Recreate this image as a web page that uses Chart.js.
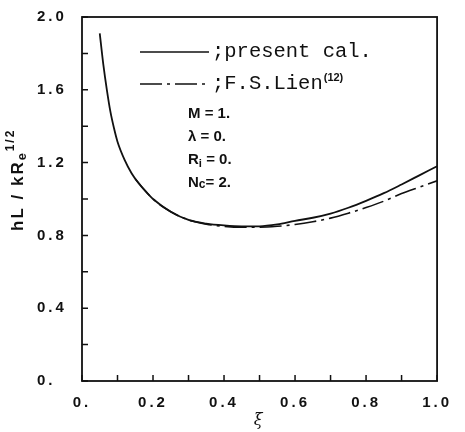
<!DOCTYPE html>
<html>
<head>
<meta charset="utf-8">
<script src="https://cdn.jsdelivr.net/npm/chart.js@4.4.1/dist/chart.umd.min.js"></script>
<style>
html, body { margin: 0; padding: 0; background: #fff; }
</style>
</head>
<body>
<canvas id="hl_chart" width="465" height="432"></canvas>
<script>
// values
const xi = [0.05, 0.06, 0.07, 0.08, 0.09, 0.10, 0.12, 0.14, 0.16, 0.18, 0.20, 0.25, 0.30, 0.35, 0.40, 0.45, 0.50, 0.55, 0.60, 0.65, 0.70, 0.75, 0.80, 0.85, 0.90, 0.95, 1.00];
const presentCal = [1.91, 1.74, 1.60, 1.48, 1.39, 1.315, 1.215, 1.14, 1.085, 1.04, 1.00, 0.93, 0.885, 0.865, 0.855, 0.85, 0.85, 0.86, 0.88, 0.897, 0.92, 0.952, 0.99, 1.032, 1.08, 1.13, 1.18];
const xiLien = [0.15, 0.20, 0.25, 0.30, 0.35, 0.40, 0.45, 0.50, 0.55, 0.60, 0.65, 0.70, 0.75, 0.80, 0.85, 0.90, 0.95, 1.00];
const lienVals = [1.11, 1.00, 0.93, 0.885, 0.862, 0.85, 0.845, 0.845, 0.85, 0.86, 0.875, 0.895, 0.922, 0.953, 0.988, 1.03, 1.065, 1.10];
const xTickLabels = ['0.', '0.2', '0.4', '0.6', '0.8', '1.0'];
const yTickLabels = ['0.', '0.4', '0.8', '1.2', '1.6', '2.0'];
const legendLabels = [';present cal.', ';F.S.Lien'];
const legendRef = '(12)';
const params = [
	[['M', ''], [' = 1.', '']],
	[['\u03bb', ''], [' = 0.', '']],
	[['R', ''], ['i', 'sub'], [' = 0.', '']],
	[['N', ''], ['c', 'low'], ['= 2.', '']]
];

const tickFont = { family: '"Liberation Sans", Arial, sans-serif', size: 15, weight: 'bold' };

function toPoints(xs, ys) {
	return xs.map((x, i) => ({ x: x, y: ys[i] }));
}

function drawRich(ctx, parts, x, y, size) {
	let cx = x;
	parts.forEach(([txt, kind]) => {
		let s = size, dy = 0;
		if (kind === 'sub') { s = size * 0.75; dy = size * 0.25; }
		if (kind === 'low') { s = size * 0.8; dy = size * 0.08; }
		if (kind === 'sup') { s = size * 0.7; dy = -size * 0.4; }
		ctx.font = 'bold ' + s + 'px "Liberation Sans", Arial, sans-serif';
		ctx.fillText(txt, cx, y + dy);
		cx += ctx.measureText(txt).width;
	});
}

const frame = {
	id: 'frame',
	beforeLayout(chart) { chart.ctx.letterSpacing = '3px'; },
	beforeDraw(chart) { chart.ctx.letterSpacing = '3px'; },
	afterDraw(chart) {
		const ctx = chart.ctx;
		const a = chart.chartArea;
		const xs = chart.scales.x, ys = chart.scales.y;
		ctx.save();
		ctx.letterSpacing = '0px';
		ctx.strokeStyle = '#111';
		ctx.lineWidth = 1.8;
		ctx.strokeRect(a.left, a.top, a.right - a.left, a.bottom - a.top);
		// inward ticks
		ctx.lineWidth = 1.5;
		ctx.beginPath();
		ys.ticks.forEach(t => {
			const p = ys.getPixelForValue(t.value);
			ctx.moveTo(a.left, p); ctx.lineTo(a.left + 6, p);
		});
		xs.ticks.forEach(t => {
			const p = xs.getPixelForValue(t.value);
			ctx.moveTo(p, a.bottom); ctx.lineTo(p, a.bottom - 6);
		});
		ctx.stroke();

		// legend
		const lx1 = a.left + 58, lx2 = a.left + 127;
		const r1 = a.top + 35, r2 = a.top + 67;
		ctx.lineWidth = 1.6;
		ctx.beginPath(); ctx.moveTo(lx1, r1); ctx.lineTo(lx2, r1); ctx.stroke();
		ctx.setLineDash([22, 5, 3, 5]);
		ctx.beginPath(); ctx.moveTo(lx1, r2); ctx.lineTo(lx2, r2); ctx.stroke();
		ctx.setLineDash([]);
		ctx.fillStyle = '#111';
		ctx.textBaseline = 'middle';
		ctx.textAlign = 'left';
		ctx.font = '20.5px "Liberation Mono", "Courier New", monospace';
		ctx.fillText(legendLabels[0], lx2 + 3, r1);
		ctx.fillText(legendLabels[1], lx2 + 3, r2);
		const w = ctx.measureText(legendLabels[1]).width;
		ctx.font = 'bold 11px "Liberation Sans", Arial, sans-serif';
		ctx.fillText(legendRef, lx2 + 3 + w + 1, r2 - 6);

		// parameters
		params.forEach((parts, i) => {
			drawRich(ctx, parts, a.left + 106, a.top + 97 + i * 23, 15);
		});

		// y axis title
		ctx.letterSpacing = '2px';
		ctx.translate(18, 231);
		ctx.rotate(-Math.PI / 2);
		drawRich(ctx, [['hL / kR', ''], ['e', 'sub'], ['1/2', 'sup']], 0, 0, 17);
		ctx.restore();
	}
};

const ctx = document.querySelector('#hl_chart').getContext('2d');
const myChart = new Chart(ctx, {
	type: 'line',
	data: {
		datasets: [{
			label: 'present cal.',
			data: toPoints(xi, presentCal),
			borderColor: '#111',
			borderWidth: 1.8,
			pointRadius: 0,
			cubicInterpolationMode: 'monotone',
			fill: false
		}, {
			label: 'F.S.Lien',
			data: toPoints(xiLien, lienVals),
			borderColor: '#111',
			borderWidth: 1.6,
			borderDash: [22, 5, 3, 5],
			pointRadius: 0,
			cubicInterpolationMode: 'monotone',
			fill: false
		}]
	},
	options: {
		responsive: false,
		animation: false,
		layout: { padding: { left: 37, top: 15, right: 18, bottom: 0 } },
		plugins: {
			legend: { display: false },
			tooltip: { enabled: false }
		},
		scales: {
			x: {
				type: 'linear',
				min: 0, max: 1,
				grid: { display: false, drawTicks: false },
				border: { display: false },
				ticks: {
					stepSize: 0.1,
					autoSkip: false,
					maxRotation: 0,
					padding: 13,
					color: '#111',
					font: tickFont,
					callback: v => {
						const k = Math.round(v * 10);
						return k % 2 === 0 ? xTickLabels[k / 2] : '';
					}
				},
				title: {
					display: true,
					text: '\u03be',
					color: '#111',
					font: { family: '"DejaVu Serif", serif', size: 16, style: 'italic' },
					padding: { top: 0, bottom: 2 }
				},
				afterFit: s => { s.height = 51; }
			},
			y: {
				min: 0, max: 2,
				grid: { display: false, drawTicks: false },
				border: { display: false },
				ticks: {
					stepSize: 0.2,
					autoSkip: false,
					crossAlign: 'far',
					padding: 8,
					color: '#111',
					font: tickFont,
					callback: v => {
						const k = Math.round(v * 5);
						return k % 2 === 0 ? yTickLabels[k / 2] : '';
					}
				},
				afterFit: s => { s.width = 45; }
			}
		}
	},
	plugins: [frame]
});
</script>
</body>
</html>
